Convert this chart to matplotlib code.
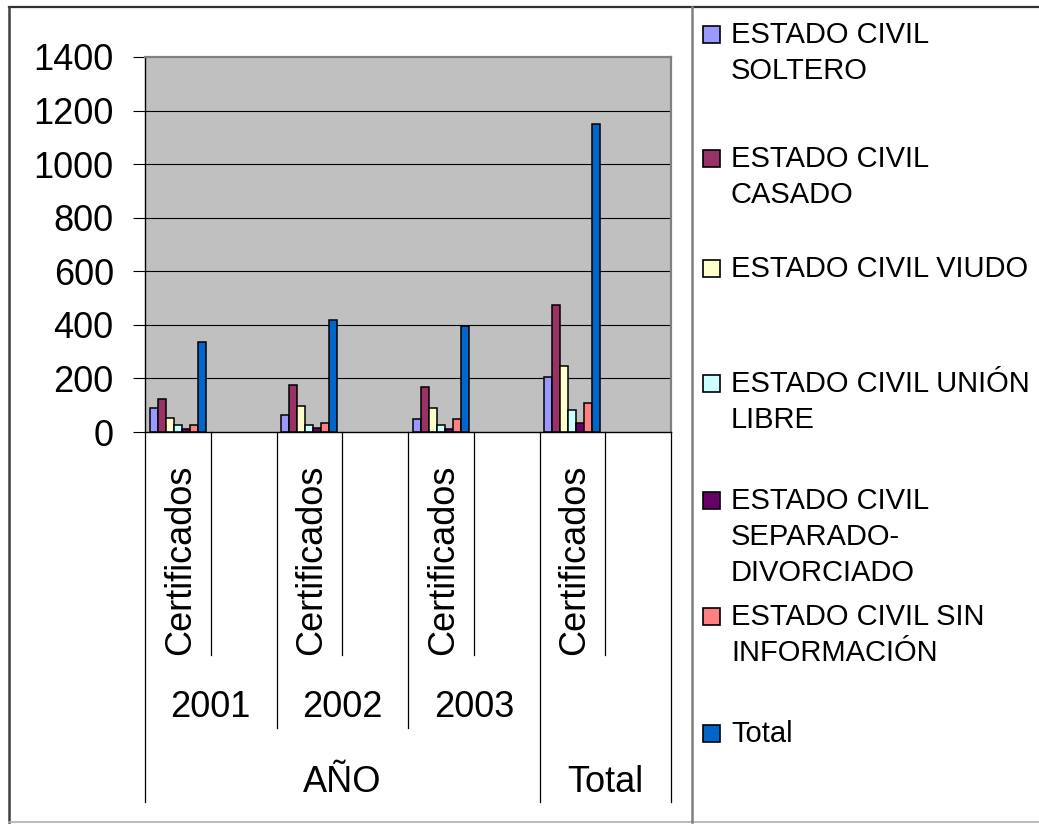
import matplotlib
matplotlib.use("Agg")
import matplotlib.pyplot as plt
import matplotlib.transforms as mtransforms
from matplotlib.lines import Line2D
from matplotlib.patches import Rectangle

plt.rcParams['font.family'] = ['Liberation Sans', 'DejaVu Sans']

# ---- data -------------------------------------------------------------
series_labels = [
    "ESTADO CIVIL\nSOLTERO",
    "ESTADO CIVIL\nCASADO",
    "ESTADO CIVIL VIUDO",
    "ESTADO CIVIL UNIÓN\nLIBRE",
    "ESTADO CIVIL\nSEPARADO-\nDIVORCIADO",
    "ESTADO CIVIL SIN\nINFORMACIÓN",
    "Total",
]
series_colors = ["#9999FF", "#993366", "#FFFFCC", "#CCFFFF",
                 "#660066", "#FF8080", "#0066CC"]

# one row per series, one value per group (2001, 2002, 2003, Total)
soltero = [90, 62, 47, 205]
casado = [125, 175, 167, 473]
viudo = [54, 96, 90, 247]
union_libre = [25, 25, 26, 84]
separado = [12, 14, 12, 35]
sin_info = [26, 35, 47, 107]
total = [336, 417, 394, 1149]
series_values = [soltero, casado, viudo, union_libre, separado, sin_info, total]

level1_labels = ["Certificados", "Certificados", "Certificados", "Certificados"]
level2_labels = ["2001", "2002", "2003", ""]
level3_labels = ["AÑO", "Total"]
y_ticks = [0, 200, 400, 600, 800, 1000, 1200, 1400]

# ---- layout ------------------------------------------------------------
W, H = 1039, 824
fig = plt.figure(figsize=(W / 100, H / 100), dpi=100)


def fx(px):
    return px / W


def fy(py):
    return 1 - py / H


AX_L, AX_R, AX_T, AX_B = 145, 671, 57, 432
ax = fig.add_axes([fx(AX_L), fy(AX_B), fx(AX_R) - fx(AX_L), fy(AX_T) - fy(AX_B)])
ax.set_facecolor("#C0C0C0")

n_slots = 2 * len(level1_labels)
ax.set_xlim(-0.5, n_slots - 0.5)
ax.set_ylim(y_ticks[0], y_ticks[-1])
slot_px = (AX_R - AX_L) / n_slots

# gridlines
for v in y_ticks[1:-1]:
    ax.axhline(v, color="black", lw=0.8, zorder=1)

# bars: each category sits in the first slot of its pair
bar_w = 8.0 / slot_px
n_series = len(series_values)
group_centers = [2 * i for i in range(len(level1_labels))]
for s, (vals, col) in enumerate(zip(series_values, series_colors)):
    xs = [c + (s - (n_series - 1) / 2) * bar_w for c in group_centers]
    ax.bar(xs, vals, width=bar_w, color=col, edgecolor="black",
           linewidth=1.1, zorder=3)

# axes styling
ax.set_xticks([])
ax.set_yticks(y_ticks)
ax.tick_params(axis="y", direction="out", length=8.5, width=0.8,
               color="black", pad=14, labelsize=26)
for side in ("left", "bottom"):
    ax.spines[side].set_color("black")
    ax.spines[side].set_linewidth(1.0)
for side in ("top", "right"):
    ax.spines[side].set_color("#808080")
    ax.spines[side].set_linewidth(1.6)
ax.spines["bottom"].set_zorder(5)

# ---- multi-level category axis ----------------------------------------
tr = mtransforms.blended_transform_factory(ax.transData, fig.transFigure)
Y_L1, Y_L2, Y_L3 = 655, 728, 802
for k in range(n_slots + 1):
    b = -0.5 + k
    if k in (0, n_slots, 6):
        y_end = Y_L3
    elif k % 2 == 0:
        y_end = Y_L2
    else:
        y_end = Y_L1
    ax.add_line(Line2D([b, b], [fy(AX_B), fy(y_end)], transform=tr,
                       color="black", lw=0.9, clip_on=False))

for c, lab in zip(group_centers, level1_labels):
    ax.text(c + 12 / slot_px, fy(655), lab, transform=tr, rotation=90,
            rotation_mode="anchor", ha="left", va="baseline", fontsize=26,
            clip_on=False)

for c, lab in zip(group_centers, level2_labels):
    if lab:
        ax.text(c + 0.5, fy(717), lab, transform=tr, ha="center",
                va="baseline", fontsize=26, clip_on=False)

ax.text(2.5, fy(792), level3_labels[0], transform=tr, ha="center",
        va="baseline", fontsize=26, clip_on=False)
ax.text(6.5, fy(792), level3_labels[1], transform=tr, ha="center",
        va="baseline", fontsize=26, clip_on=False)

# ---- outer frame and legend box ---------------------------------------
fig.add_artist(Line2D([fx(9), fx(W + 5)], [fy(7), fy(7)], color="#303030", lw=1.6))
fig.add_artist(Line2D([fx(9), fx(9)], [fy(7), fy(822)], color="#404040", lw=1.8))
fig.add_artist(Line2D([fx(9), fx(W + 5)], [fy(822), fy(822)], color="#B0B0B0", lw=1.2))
fig.add_artist(Line2D([fx(692), fx(692)], [fy(7), fy(822)], color="#808080", lw=1.8))

# legend entries: baseline of first text line in pixels
legend_baselines = [43, 167, 277, 392, 509, 625, 742]
line_pitch = 36
for lab, col, yb in zip(series_labels, series_colors, legend_baselines):
    fig.add_artist(Rectangle((fx(703), fy(yb)), fx(17), 17 / H,
                             transform=fig.transFigure, facecolor=col,
                             edgecolor="black", lw=1.2))
    for i, line in enumerate(lab.split("\n")):
        fig.text(fx(731), fy(yb + i * line_pitch), line, fontsize=21,
                 ha="left", va="baseline")

fig.savefig("out.png", dpi=100)
